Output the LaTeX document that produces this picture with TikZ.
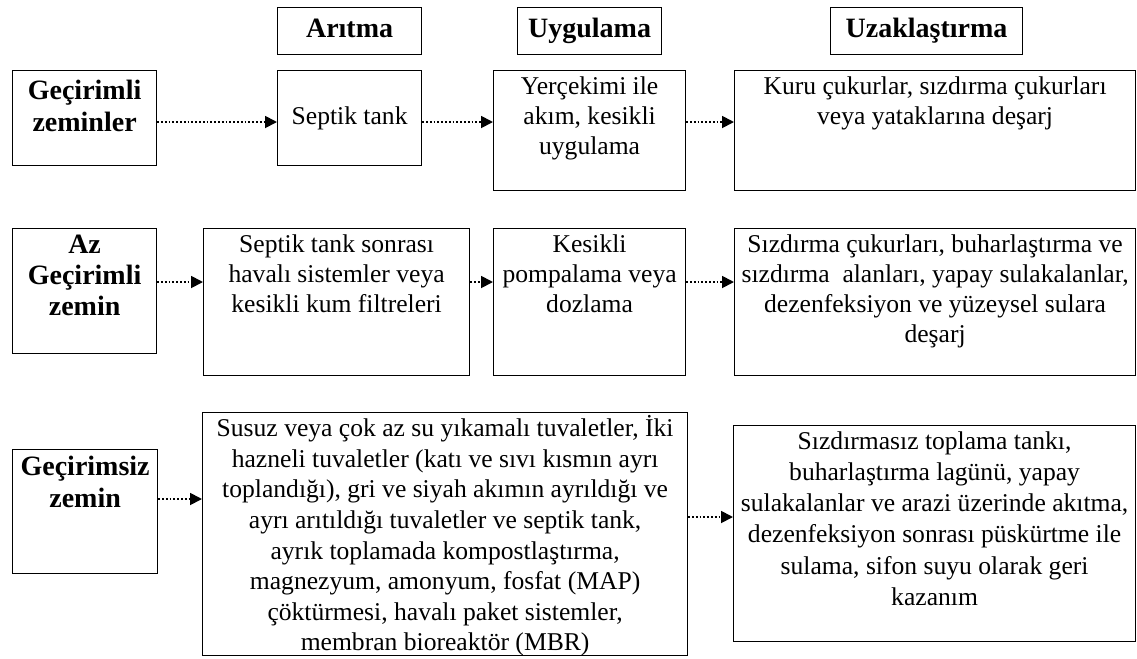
\documentclass[tikz,border=0pt]{standalone}
\usepackage{fontspec}
\setmainfont{Liberation Serif}
\usetikzlibrary{arrows.meta}

\newcommand{\yazi}{\fontsize{12.8}{15}\selectfont}
\newcommand{\baslik}{\fontsize{14}{16}\selectfont\bfseries}
% width, height, vertical position, text
\newcommand{\kutuyazi}[4]{\parbox[c][\dimexpr#2-6pt\relax][#3]{\dimexpr#1-4pt\relax}{\centering #4}}

\tikzset{
  kutu/.style={draw=black, line width=0.6pt, anchor=north west, inner xsep=2pt, inner ysep=3pt, font=\yazi},
  bkutu/.style={kutu, font=\baslik},
  ok/.style={densely dotted, line width=0.9pt, -{Triangle[length=6pt,width=6pt]}}
}

\begin{document}
\begin{tikzpicture}[x=0.5pt, y=-0.5pt]
		\useasboundingbox (0,0) rectangle (1137,659);
		% Draw the column heads
		\node[bkutu] (aritma) at (277,7) {\kutuyazi{72pt}{23.5pt}{c}{\strut Arıtma}};
		\node[bkutu] (uygulama) at (517,7) {\kutuyazi{72pt}{23.5pt}{c}{\strut Uygulama}};
		\node[bkutu] (uzak) at (830,7) {\kutuyazi{96pt}{23.5pt}{c}{\strut Uzaklaştırma}};
		
		% Draw the first row
		\node[bkutu] (gecirimli) at (12,70) {\kutuyazi{72pt}{47.5pt}{t}{\vspace*{1.5pt}Geçirimli\\zeminler}};
		\node[kutu] (septik) at (277,70) {\kutuyazi{72pt}{47.5pt}{c}{Septik tank}};
		\node[kutu] (yercekimi) at (493,70) {\kutuyazi{96pt}{60pt}{t}{Yerçekimi ile\\akım, kesikli\\uygulama}};
		\node[kutu] (kuru) at (734,70) {\kutuyazi{200.5pt}{60pt}{t}{Kuru çukurlar, sızdırma çukurları\\veya yataklarına deşarj}};
		
		% Draw the second row
		\node[bkutu] (az) at (12,228) {\kutuyazi{72pt}{62.5pt}{t}{\fontsize{14}{15.5}\selectfont Az\\Geçirimli\\zemin}};
		\node[kutu] (sonrasi) at (203,228) {\kutuyazi{133pt}{73.5pt}{t}{Septik tank sonrası\\havalı sistemler veya\\kesikli kum filtreleri}};
		\node[kutu] (kesikli) at (493,228) {\kutuyazi{96pt}{73.5pt}{t}{Kesikli\\pompalama veya\\dozlama}};
		\node[kutu] (sizdirma) at (734,228) {\kutuyazi{200.5pt}{73.5pt}{t}{Sızdırma çukurları, buharlaştırma ve\\sızdırma\ \ alanları, yapay sulakalanlar,\\dezenfeksiyon ve yüzeysel sulara\\deşarj}};
		
		% Draw the third row
		\node[bkutu] (gecirimsiz) at (12,449) {\kutuyazi{72.5pt}{62pt}{t}{Geçirimsiz\\zemin}};
		\node[kutu, inner xsep=1pt] (susuz) at (202,412) {\kutuyazi{244.5pt}{121.5pt}{t}{\fontsize{12.8}{15.3}\selectfont\vspace*{-1.5pt}Susuz veya çok az su yıkamalı tuvaletler, İki\\hazneli tuvaletler (katı ve sıvı kısmın ayrı\\toplandığı), gri ve siyah akımın ayrıldığı ve\\ayrı arıtıldığı tuvaletler ve septik tank,\\ayrık toplamada kompostlaştırma,\\magnezyum, amonyum, fosfat (MAP)\\çöktürmesi, havalı paket sistemler,\\membran bioreaktör (MBR)}};
		\node[kutu] (sizdirmasiz) at (733,425) {\kutuyazi{201pt}{108pt}{t}{\fontsize{12.8}{15.6}\selectfont Sızdırmasız toplama tankı,\\buharlaştırma lagünü, yapay\\sulakalanlar ve arazi üzerinde akıtma,\\dezenfeksiyon sonrası püskürtme ile\\sulama, sifon suyu olarak geri\\kazanım}};
		
		% Draw the arrows
		\coordinate (s1) at (0,122);
		\coordinate (s2) at (0,282);
		\coordinate (s3) at (0,499);
		\coordinate (s4) at (0,517);
		\draw[ok] (gecirimli.east |- s1) -- (septik.west |- s1);
		\draw[ok] (septik.east |- s1) -- (yercekimi.west |- s1);
		\draw[ok] (yercekimi.east |- s1) -- (kuru.west |- s1);
		\draw[ok] (az.east |- s2) -- (sonrasi.west |- s2);
		\draw[ok] (sonrasi.east |- s2) -- (kesikli.west |- s2);
		\draw[ok] (kesikli.east |- s2) -- (sizdirma.west |- s2);
		\draw[ok] (gecirimsiz.east |- s3) -- (susuz.west |- s3);
		\draw[ok] (susuz.east |- s4) -- (sizdirmasiz.west |- s4);
		
	\end{tikzpicture}
\end{document}
